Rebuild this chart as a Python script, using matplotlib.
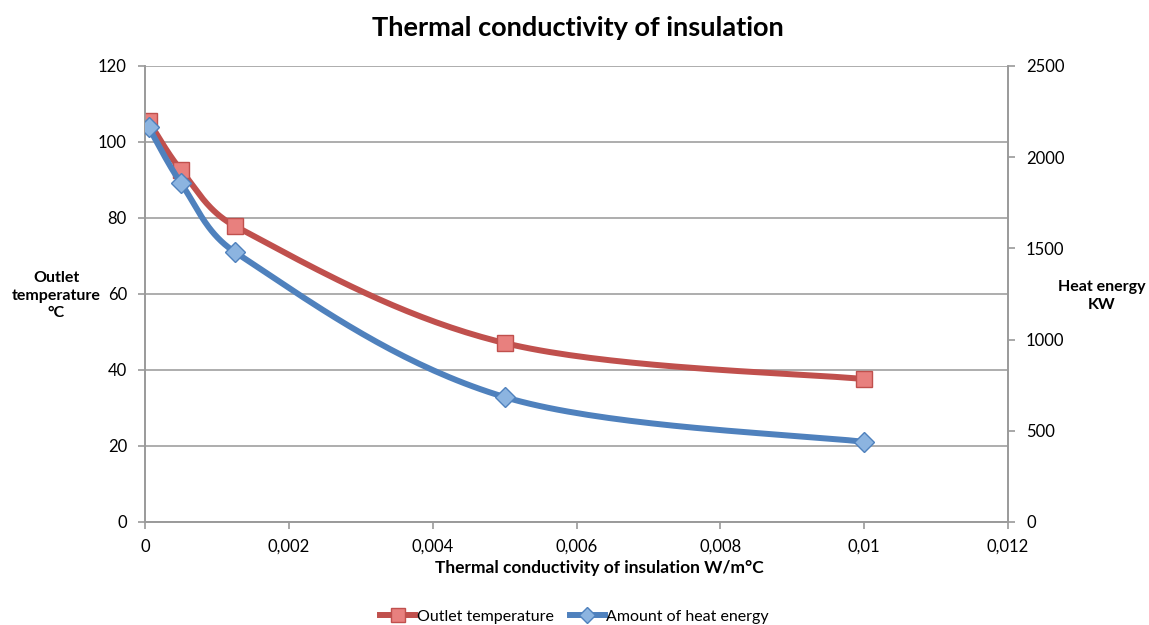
import matplotlib.pyplot as plt
import numpy as np

# data
conductivity = [0.00005, 0.0005, 0.00125, 0.005, 0.01]
outlet_temp = [105.5, 92.6, 77.9, 47.1, 37.6]
heat_energy = [2165, 1858, 1480, 685, 439]

x_ticks = [0, 0.002, 0.004, 0.006, 0.008, 0.01, 0.012]
y1_ticks = [0, 20, 40, 60, 80, 100, 120]
y2_ticks = [0, 500, 1000, 1500, 2000, 2500]

plt.rcParams['font.family'] = ['Lato', 'DejaVu Sans']


def smooth(xs, ys, xr, yr, n=40):
    # smoothed line through the points (bezier, tangents from neighbours)
    pts = np.column_stack([np.array(xs) / xr, np.array(ys) / yr])
    d = np.linalg.norm(np.diff(pts, axis=0), axis=1)
    m = len(pts)
    out = []
    for i in range(m - 1):
        p0 = pts[max(i - 1, 0)]
        p1 = pts[i]
        p2 = pts[i + 1]
        p3 = pts[min(i + 2, m - 1)]
        d0 = d[i - 1] if i > 0 else d[i]
        d2 = d[i + 1] if i + 2 < m else d[i]
        c1 = p1 + (p2 - p0) * d[i] / (d0 + d[i]) / 3
        c2 = p2 - (p3 - p1) * d[i] / (d[i] + d2) / 3
        t = np.linspace(0, 1, n)[:, None]
        seg = (1 - t) ** 3 * p1 + 3 * (1 - t) ** 2 * t * c1 + 3 * (1 - t) * t ** 2 * c2 + t ** 3 * p2
        out.append(seg)
    out = np.vstack(out)
    return out[:, 0] * xr, out[:, 1] * yr


fig = plt.figure(figsize=(11.49, 6.25), dpi=100)
ax = fig.add_axes([0.1262, 0.1648, 0.7511, 0.7296])
ax2 = ax.twinx()

red, red_fill = '#C0504D', '#E8807E'
blue, blue_fill = '#4F81BD', '#8CB4E0'

sx, sy = smooth(conductivity, outlet_temp, 0.012, 120)
ax.plot(sx, sy, color=red, lw=4.3, solid_capstyle='round', zorder=3)
ax.plot(conductivity, outlet_temp, 's', ms=12, mfc=red_fill, mec=red, mew=1, zorder=4)

sx, sy = smooth(conductivity, heat_energy, 0.012, 2500)
ax2.plot(sx, sy, color=blue, lw=4.3, solid_capstyle='round', zorder=3)
ax2.plot(conductivity, heat_energy, 'D', ms=10, mfc=blue_fill, mec=blue, mew=1, zorder=4)

ax.set_xlim(0, 0.012)
ax.set_ylim(0, 120)
ax2.set_ylim(0, 2500)
ax.set_xticks(x_ticks)
ax.set_xticklabels([f'{v:g}'.replace('.', ',') for v in x_ticks])
ax.set_yticks(y1_ticks)
ax2.set_yticks(y2_ticks)
ax.yaxis.grid(True, color='#A0A0A0', lw=1.2)
ax.set_axisbelow(True)

for a in (ax, ax2):
    for s in a.spines.values():
        s.set_color('#9A9A9A')
        s.set_linewidth(1.2)
    a.spines['top'].set_visible(False)
    a.tick_params(colors='#9A9A9A', labelcolor='black', labelsize=12, length=5, width=1.2, pad=8)
ax.tick_params(axis='x', pad=7)

fig.text(0.5027, 0.955, 'Thermal conductivity of insulation', ha='center', va='center',
         fontsize=19.5, fontweight='bold')
fig.text(0.522, 0.092, 'Thermal conductivity of insulation W/m°C', ha='center', va='center',
         fontsize=12.5, fontweight='bold')
fig.text(0.049, 0.527, 'Outlet\ntemperature\n°C', ha='center', va='center',
         fontsize=11.5, fontweight='bold', linespacing=1.35)
fig.text(0.959, 0.526, 'Heat energy\nKW', ha='center', va='center',
         fontsize=11.5, fontweight='bold', linespacing=1.35)

h1 = plt.Line2D([], [], color=red, lw=4.3, marker='s', ms=10, mfc=red_fill, mec=red)
h2 = plt.Line2D([], [], color=blue, lw=4.3, marker='D', ms=8, mfc=blue_fill, mec=blue)
fig.legend([h1, h2], ['Outlet temperature', 'Amount of heat energy'], loc='center',
           bbox_to_anchor=(0.5, 0.013), ncol=2, frameon=False, fontsize=11.5,
           handlelength=2.2, handletextpad=0.1, columnspacing=1.0)

fig.savefig('out.png', dpi=100)
